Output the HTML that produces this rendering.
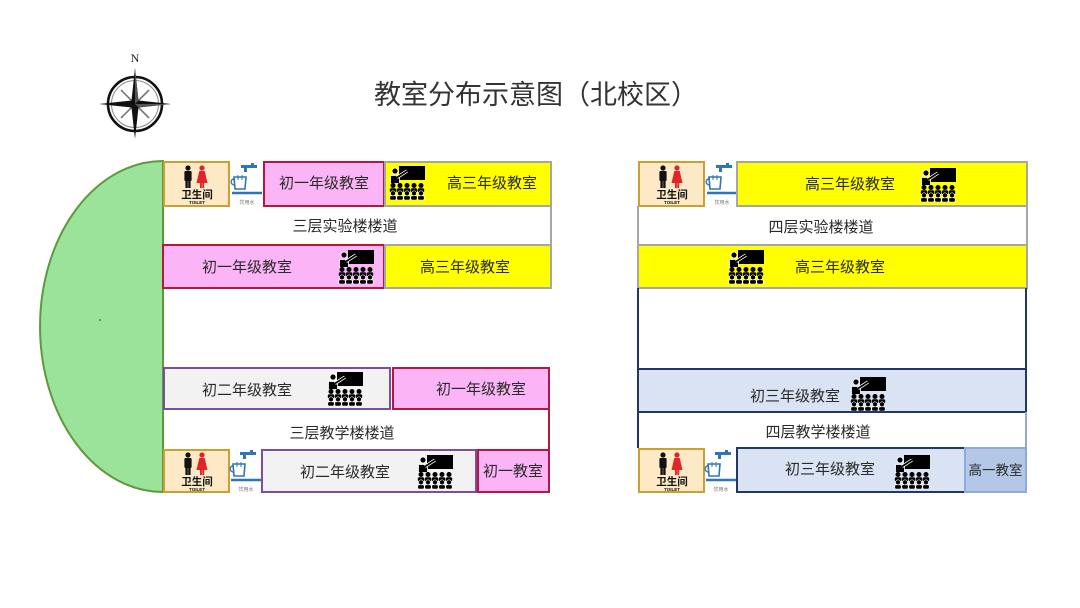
<!DOCTYPE html>
<html><head><meta charset="utf-8"><style>
html,body{margin:0;padding:0;background:#fff;width:1080px;height:608px;overflow:hidden}
svg{display:block}
text{font-family:"Liberation Sans","Noto Sans CJK SC",sans-serif;fill:#2a2a2a}
</style></head><body>
<svg width="1080" height="608" viewBox="0 0 1080 608" xmlns="http://www.w3.org/2000/svg">
<defs>
<symbol id="cls" viewBox="0 0 36 34">
<rect x="10" y="0" width="26" height="14" fill="#000"/>
<circle cx="6" cy="5" r="3" fill="#000" stroke="#fff" stroke-width="0.8"/>
<path d="M1.5,9.5 h9 v8 h-9 z" fill="#000" stroke="#fff" stroke-width="0.8"/>
<line x1="8" y1="11.5" x2="18" y2="5" stroke="#fff" stroke-width="3.4"/>
<line x1="8" y1="11.5" x2="18" y2="5" stroke="#000" stroke-width="1.7"/>
<g fill="#000">
<circle cx="4" cy="19.5" r="2.5"/><circle cx="11" cy="19.5" r="2.5"/><circle cx="18" cy="19.5" r="2.5"/><circle cx="25" cy="19.5" r="2.5"/><circle cx="32" cy="19.5" r="2.5"/>
<rect x="0.8" y="22.3" width="6.4" height="4.2" rx="1.5"/><rect x="7.8" y="22.3" width="6.4" height="4.2" rx="1.5"/><rect x="14.8" y="22.3" width="6.4" height="4.2" rx="1.5"/><rect x="21.8" y="22.3" width="6.4" height="4.2" rx="1.5"/><rect x="28.8" y="22.3" width="6.4" height="4.2" rx="1.5"/>
</g>
<g fill="#000" stroke="#fff" stroke-width="0.6">
<circle cx="4" cy="27.3" r="2.5"/><circle cx="11" cy="27.3" r="2.5"/><circle cx="18" cy="27.3" r="2.5"/><circle cx="25" cy="27.3" r="2.5"/><circle cx="32" cy="27.3" r="2.5"/>
<rect x="0.8" y="29.8" width="6.4" height="4.2" rx="1.2"/><rect x="7.8" y="29.8" width="6.4" height="4.2" rx="1.2"/><rect x="14.8" y="29.8" width="6.4" height="4.2" rx="1.2"/><rect x="21.8" y="29.8" width="6.4" height="4.2" rx="1.2"/><rect x="28.8" y="29.8" width="6.4" height="4.2" rx="1.2"/>
</g>
</symbol>
<symbol id="figs" viewBox="0 0 67 45" overflow="visible">
<circle cx="24" cy="7" r="2.6" fill="#111"/>
<rect x="20.4" y="10" width="7.2" height="10" rx="1" fill="#111"/>
<rect x="21.4" y="19" width="2.4" height="8" fill="#111"/><rect x="24.2" y="19" width="2.4" height="8" fill="#111"/>
<circle cx="38" cy="7" r="2.6" fill="#e0242a"/>
<path d="M35.3,10 h5.4 l2.8,12 h-11 z" fill="#e0242a"/>
<rect x="36" y="21" width="1.9" height="6" fill="#e0242a"/><rect x="38.3" y="21" width="1.9" height="6" fill="#e0242a"/>
</symbol>
<symbol id="water" viewBox="0 0 32 45" overflow="visible">
<path d="M11,4 h10 v-2 h3 v2 h3 v3 h-10 v4 h-3 v-4 h-3 z" fill="#2e75b6"/>
<path d="M4,16 h12 l-1,12 h-10 z" fill="none" stroke="#2e75b6" stroke-width="1.6"/>
<path d="M4,18 c-4,0 -4,6 1,6" fill="none" stroke="#2e75b6" stroke-width="1.4"/>
<line x1="8" y1="14" x2="8" y2="19" stroke="#2e75b6" stroke-width="1"/>
<line x1="12" y1="14" x2="12" y2="19" stroke="#2e75b6" stroke-width="1"/>
<line x1="2" y1="32" x2="32" y2="32" stroke="#2e75b6" stroke-width="2.5"/>
</symbol>
</defs>

<!-- compass -->
<text x="135" y="62" text-anchor="middle" style="font-family:'Liberation Serif',serif;font-size:12px;fill:#222">N</text>
<circle cx="135" cy="104" r="27" fill="none" stroke="#111" stroke-width="2.6"/>
<circle cx="135" cy="104" r="23.5" fill="none" stroke="#888" stroke-width="1"/>
<g stroke="#777" stroke-width="1.6">
<line x1="135" y1="104" x2="149" y2="90"/><line x1="135" y1="104" x2="149" y2="118"/>
<line x1="135" y1="104" x2="121" y2="118"/><line x1="135" y1="104" x2="121" y2="90"/>
</g>
<path d="M135,68 L138.5,100.5 L171,104 L138.5,107.5 L135,139 L131.5,107.5 L99,104 L131.5,100.5 Z" fill="#111"/>
<path d="M135,68 L138.5,100.5 L135,104 Z M171,104 L138.5,107.5 L135,104 Z" fill="#555"/>

<!-- title -->
<text x="536" y="104" text-anchor="middle" style="font-size:27px;fill:#333">教室分布示意图（北校区）</text>

<!-- LEFT BUILDING -->
<path d="M163,161 A123,165.5 0 0 0 163,492 Z" fill="#9be39a" stroke="#5e9a3c" stroke-width="2"/>
<circle cx="100" cy="320" r="0.8" fill="#333"/>

<rect x="164" y="162" width="65" height="44" fill="#fde9c5" stroke="#c9a130" stroke-width="2"/>
<use href="#figs" x="164" y="161" width="67" height="45"/>
<text x="197" y="198" text-anchor="middle" style="font-size:10.5px;font-weight:bold;fill:#111">卫生间</text>
<text x="197" y="204" text-anchor="middle" style="font-size:4.5px;font-weight:bold;fill:#111">TOILET</text>
<use href="#water" x="230" y="161" width="32" height="45"/>
<text x="247" y="204" text-anchor="middle" style="font-size:5px;fill:#777">饮用水</text>

<rect x="264" y="162" width="120" height="44" fill="#fbb5f6" stroke="#b4183c" stroke-width="2"/>
<text x="324" y="188" text-anchor="middle" style="font-size:15px">初一年级教室</text>
<rect x="385" y="162" width="166" height="44" fill="#ffff00" stroke="#a6a6a6" stroke-width="2"/>
<use href="#cls" x="389" y="166" width="36" height="34"/>
<text x="492" y="188" text-anchor="middle" style="font-size:15px">高三年级教室</text>

<line x1="551" y1="206" x2="551" y2="245" stroke="#a6a6a6" stroke-width="2"/>
<text x="345" y="231" text-anchor="middle" style="font-size:15px">三层实验楼楼道</text>

<rect x="163" y="245" width="221" height="43" fill="#fbb5f6" stroke="#b4183c" stroke-width="2"/>
<text x="247" y="272" text-anchor="middle" style="font-size:15px">初一年级教室</text>
<use href="#cls" x="338" y="250" width="36" height="34"/>
<rect x="385" y="245" width="166" height="43" fill="#ffff00" stroke="#a6a6a6" stroke-width="2"/>
<text x="465" y="272" text-anchor="middle" style="font-size:15px">高三年级教室</text>

<rect x="164" y="368" width="226" height="41" fill="#f2f2f2" stroke="#7b4ea3" stroke-width="2"/>
<text x="247" y="395" text-anchor="middle" style="font-size:15px">初二年级教室</text>
<use href="#cls" x="327" y="372" width="36" height="34"/>
<rect x="393" y="368" width="156" height="41" fill="#fbb5f6" stroke="#b4183c" stroke-width="2"/>
<text x="481" y="394" text-anchor="middle" style="font-size:15px">初一年级教室</text>

<line x1="549" y1="409" x2="549" y2="450" stroke="#b4183c" stroke-width="2"/>
<text x="342" y="438" text-anchor="middle" style="font-size:15px">三层教学楼楼道</text>

<rect x="164" y="450" width="65" height="42" fill="#fde9c5" stroke="#c9a130" stroke-width="2"/>
<use href="#figs" x="164" y="448" width="67" height="45"/>
<text x="197" y="485" text-anchor="middle" style="font-size:10.5px;font-weight:bold;fill:#111">卫生间</text>
<text x="197" y="491" text-anchor="middle" style="font-size:4.5px;font-weight:bold;fill:#111">TOILET</text>
<use href="#water" x="229" y="448" width="32" height="45"/>
<text x="246" y="491" text-anchor="middle" style="font-size:5px;fill:#777">饮用水</text>

<rect x="262" y="450" width="214" height="42" fill="#f2f2f2" stroke="#7b4ea3" stroke-width="2"/>
<text x="345" y="477" text-anchor="middle" style="font-size:15px">初二年级教室</text>
<use href="#cls" x="417" y="455" width="36" height="34"/>
<rect x="478" y="450" width="71" height="42" fill="#fbb5f6" stroke="#b4183c" stroke-width="2"/>
<text x="513" y="476" text-anchor="middle" style="font-size:15px">初一教室</text>

<!-- RIGHT BUILDING -->
<rect x="639" y="162" width="65" height="44" fill="#fde9c5" stroke="#c9a130" stroke-width="2"/>
<use href="#figs" x="639" y="161" width="67" height="45"/>
<text x="672" y="198" text-anchor="middle" style="font-size:10.5px;font-weight:bold;fill:#111">卫生间</text>
<text x="672" y="204" text-anchor="middle" style="font-size:4.5px;font-weight:bold;fill:#111">TOILET</text>
<use href="#water" x="705" y="161" width="32" height="45"/>
<text x="722" y="204" text-anchor="middle" style="font-size:5px;fill:#777">饮用水</text>

<rect x="737" y="162" width="290" height="44" fill="#ffff00" stroke="#a6a6a6" stroke-width="2"/>
<text x="850" y="189" text-anchor="middle" style="font-size:15px">高三年级教室</text>
<use href="#cls" x="920" y="168" width="36" height="34"/>

<line x1="638" y1="206" x2="638" y2="245" stroke="#a6a6a6" stroke-width="2"/>
<line x1="1027" y1="206" x2="1027" y2="245" stroke="#a6a6a6" stroke-width="2"/>
<text x="821" y="232" text-anchor="middle" style="font-size:15px">四层实验楼楼道</text>

<rect x="638" y="245" width="389" height="43" fill="#ffff00" stroke="#a6a6a6" stroke-width="2"/>
<use href="#cls" x="728" y="250" width="36" height="34"/>
<text x="840" y="272" text-anchor="middle" style="font-size:15px">高三年级教室</text>

<line x1="638" y1="288" x2="638" y2="369" stroke="#203864" stroke-width="2"/>
<line x1="1026" y1="288" x2="1026" y2="369" stroke="#203864" stroke-width="2"/>

<rect x="638" y="369" width="388" height="43" fill="#dae3f3" stroke="#203864" stroke-width="2"/>
<text x="795" y="401" text-anchor="middle" style="font-size:15px">初三年级教室</text>
<use href="#cls" x="850" y="377" width="36" height="34"/>

<line x1="638" y1="412" x2="638" y2="448" stroke="#203864" stroke-width="2"/>
<line x1="1026" y1="412" x2="1026" y2="448" stroke="#8eaadb" stroke-width="2"/>
<text x="818" y="437" text-anchor="middle" style="font-size:15px">四层教学楼楼道</text>

<rect x="639" y="449" width="65" height="43" fill="#fde9c5" stroke="#c9a130" stroke-width="2"/>
<use href="#figs" x="639" y="448" width="67" height="45"/>
<text x="672" y="485" text-anchor="middle" style="font-size:10.5px;font-weight:bold;fill:#111">卫生间</text>
<text x="672" y="491" text-anchor="middle" style="font-size:4.5px;font-weight:bold;fill:#111">TOILET</text>
<use href="#water" x="704" y="448" width="32" height="45"/>
<text x="721" y="491" text-anchor="middle" style="font-size:5px;fill:#777">饮用水</text>

<rect x="737" y="448" width="228" height="44" fill="#dae3f3" stroke="#203864" stroke-width="2"/>
<text x="830" y="474" text-anchor="middle" style="font-size:15px">初三年级教室</text>
<use href="#cls" x="894" y="455" width="36" height="34"/>
<rect x="965" y="448" width="61" height="44" fill="#b4c7e7" stroke="#8eaadb" stroke-width="2"/>
<text x="995.5" y="475" text-anchor="middle" style="font-size:13.5px">高一教室</text>
</svg>
</body></html>
